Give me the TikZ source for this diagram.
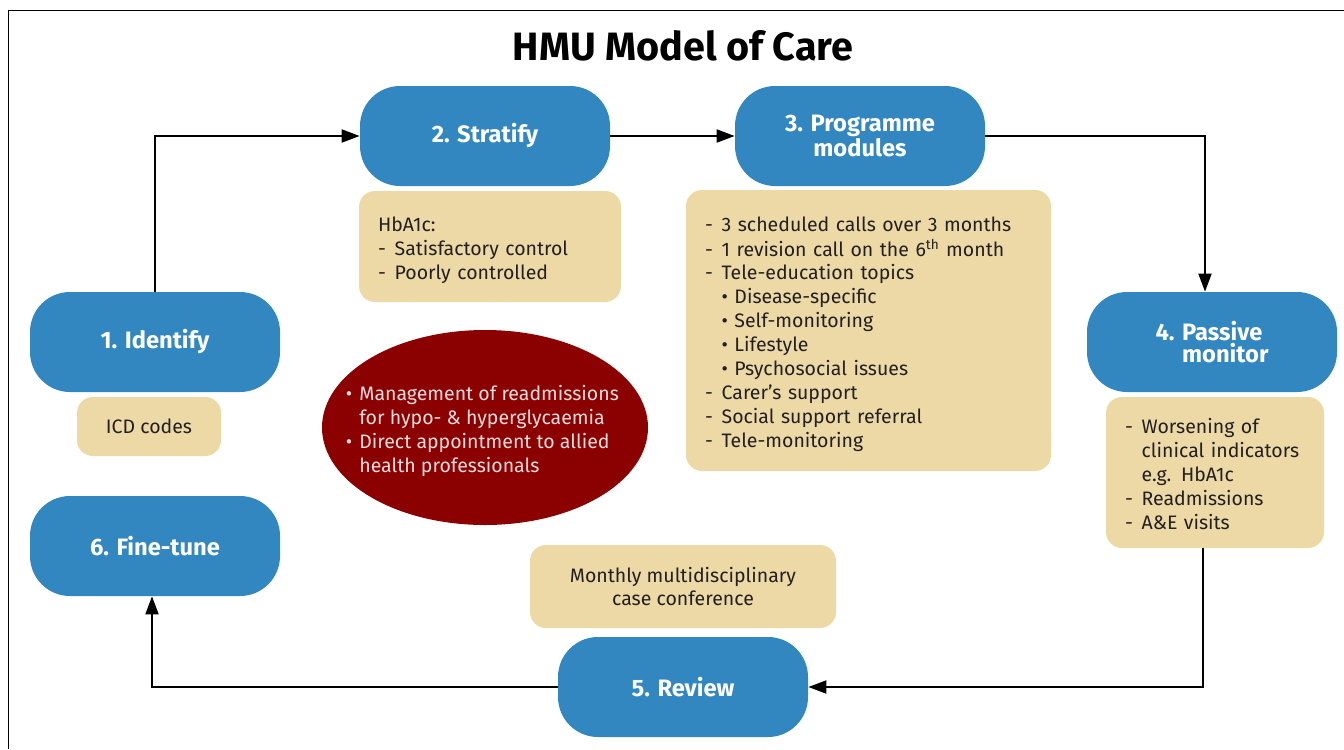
\documentclass[tikz,border=0pt]{standalone}
\usepackage{fontspec}
\setmainfont{Fira Sans}
\usetikzlibrary{shapes.geometric, arrows.meta, positioning}
\definecolor{stepblue}{RGB}{50, 135, 193}
\definecolor{notetan}{RGB}{237, 217, 165}
\definecolor{mgmtred}{RGB}{139, 0, 0}
\definecolor{inktext}{RGB}{35, 31, 32}
\definecolor{paletext}{RGB}{245, 222, 222}

\begin{document}
\begin{tikzpicture}[
    stepnode/.style={fill=stepblue, rounded corners=0.8cm, minimum width=5cm, minimum height=2cm,
      align=center, text=white, font=\fontsize{13.5}{12.6}\selectfont\bfseries},
    notebox/.style={fill=notetan, rounded corners=0.32cm, text=inktext,
      font=\fontsize{11.1}{13.6}\selectfont, inner xsep=0.38cm},
    arr/.style={-{Triangle[length=0.36cm, width=0.26cm]}, line width=1.1pt}
  ]
  \useasboundingbox (0,0) rectangle (26.88,-14.98);
  % frame
  \draw[line width=0.6pt] (0.17,-14.98) -- (0.17,-0.21) -- (26.88,-0.21);

  % title
  \node[font=\fontsize{22.5}{26}\selectfont\bfseries] (title) at (13.66,-0.92) {HMU Model of Care};

  % six steps of the cycle
  \node[stepnode] (identify) at (3.10,-6.84) {1. Identify};
  \node[stepnode] (stratify) at (9.70,-2.72) {2. Stratify};
  \node[stepnode] (programme) at (17.20,-2.72) {3. Programme\\modules};
  \node[stepnode, align=left] (passive) at (24.24,-6.84) {4. Passive\\\hphantom{4. }monitor};
  \node[stepnode] (review) at (13.66,-13.74) {5. Review};
  \node[stepnode] (finetune) at (3.10,-10.92) {6. Fine-tune};

  % notes under the steps
  \node[notebox, minimum width=2.88cm, minimum height=1.18cm, inner xsep=0.1cm] (icd) at (2.98,-8.53) {ICD codes};

  \node[notebox, text width=4.48cm, minimum height=2.22cm, align=left] (hba) at (9.80,-4.93) {
    \begin{tabular}{@{}l@{\hspace{5pt}}l@{}}
      \multicolumn{2}{@{}l@{}}{\rule{0pt}{0.5cm}HbA1c:}\\
      - & Satisfactory control\\
      - & Poorly controlled
    \end{tabular}
  };

  \node[notebox, text width=6.54cm, minimum height=5.62cm, align=left] (modules) at (17.37,-6.61) {
    \begin{tabular}{@{}l@{\hspace{5pt}}l@{}}
      \rule{0pt}{0.5cm}- & 3 scheduled calls over 3 months\\
      - & 1 revision call on the 6\textsuperscript{th} month\\
      - & Tele-education topics\\
        & \textbullet\ Disease-specific\\
        & \textbullet\ Self-monitoring\\
        & \textbullet\ Lifestyle\\
        & \textbullet\ Psychosocial issues\\
      - & Carer’s support\\
      - & Social support referral\\
      - & Tele-monitoring
    \end{tabular}
  };

  \node[notebox, text width=3.6cm, minimum height=3.02cm, align=left] (triggers) at (24.30,-9.45) {
    \begin{tabular}{@{}l@{\hspace{5pt}}l@{}}
      \rule{0pt}{0.5cm}- & Worsening of\\
        & clinical indicators\\
        & e.g. HbA1c\\
      - & Readmissions\\
      - & A\&E visits
    \end{tabular}
  };

  \node[notebox, minimum width=6.12cm, minimum height=1.66cm, align=center] (mdt) at (13.66,-11.73) {
    Monthly multidisciplinary\\case conference
  };

  % readmission management
  \node[ellipse, fill=mgmtred, minimum width=6.52cm, minimum height=3.9cm] (mgmt) at (9.70,-8.55) {};
  \node[text=paletext, font=\fontsize{11.1}{13.6}\selectfont, align=left] (mgmttext) at ([yshift=-0.08cm]mgmt.center) {
    \begin{tabular}{@{}l@{\hspace{4pt}}l@{}}
      \textbullet & Management of readmissions\\
                  & for hypo- \& hyperglycaemia\\
      \textbullet & Direct appointment to allied\\
                  & health professionals
    \end{tabular}
  };

  % cycle arrows
  \draw[arr] (identify.north) |- (stratify.west);
  \draw[arr] (stratify.east) -- (programme.west);
  \draw[arr] (programme.east) -| ([xshift=-0.14cm]passive.north);
  \draw[arr] ([xshift=-0.24cm]triggers.south) |- (review.east);
  \draw[arr] (review.west) -| ([xshift=-0.06cm]finetune.south);
\end{tikzpicture}
\end{document}
